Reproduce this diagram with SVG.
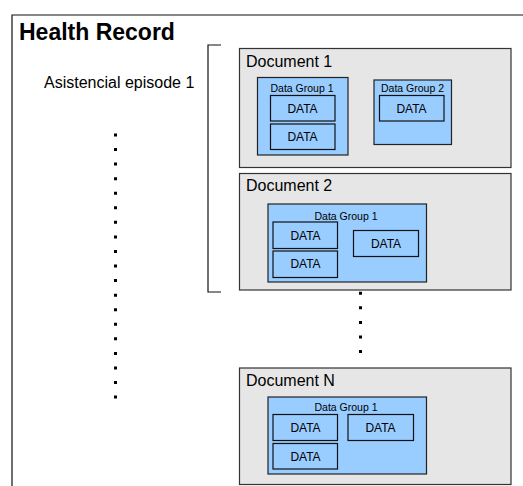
<svg xmlns="http://www.w3.org/2000/svg" width="523" height="486" viewBox="0 0 523 486">
<style>
text{font-family:"Liberation Sans",Arial,sans-serif;fill:#000}
.doc{fill:#e6e6e6;stroke:#333;stroke-width:1.2}
.grp{fill:#99ccff;stroke:#222;stroke-width:1.2}
.data{fill:none;stroke:#111;stroke-width:1.2}
.dt{font-size:12px;text-anchor:middle}
.gt{font-size:10.5px;text-anchor:middle}
.dn{font-size:16px}
.dots{stroke:#000;stroke-width:3;fill:none;stroke-dasharray:3 11.56}
.ln{stroke:#111;stroke-width:1.2;fill:none}
</style>
<rect width="523" height="486" fill="#fff"/>
<g id="health-record">
<path class="ln" d="M12,486 V15 H523"/>
<text x="19" y="40" font-size="23" font-weight="bold">Health Record</text>
</g>
<g id="episode">
<text x="44" y="88" font-size="16">Asistencial episode 1</text>
<path class="ln" d="M221,45 H208 V292 H221"/>
</g>
<g id="connectors">
<line class="dots" x1="115.5" y1="133.5" x2="115.5" y2="400"/>
<line class="dots" x1="360.5" y1="291.8" x2="360.5" y2="355"/>
</g>
<g id="doc1">
<rect class="doc" x="239.5" y="48.5" width="271.5" height="119"/>
<text class="dn" x="246" y="67">Document 1</text>
<g id="doc1-group1">
<rect class="grp" x="257.5" y="77.5" width="90.5" height="77.5"/>
<text class="gt" x="302" y="91.5">Data Group 1</text>
<rect class="data" x="270.5" y="95.5" width="64.5" height="25.5"/>
<text class="dt" x="302.5" y="112.5">DATA</text>
<rect class="data" x="270.5" y="124" width="64.5" height="25.5"/>
<text class="dt" x="302.5" y="141">DATA</text>
</g>
<g id="doc1-group2">
<rect class="grp" x="374" y="80" width="77.5" height="64.5"/>
<text class="gt" x="412.5" y="91.5">Data Group 2</text>
<rect class="data" x="379.5" y="95.5" width="64.5" height="25.5"/>
<text class="dt" x="411.5" y="112.5">DATA</text>
</g>
</g>
<g id="doc2">
<rect class="doc" x="239.5" y="173.5" width="271.5" height="116.5"/>
<text class="dn" x="246" y="191">Document 2</text>
<g id="doc2-group1">
<rect class="grp" x="268" y="204" width="158.5" height="78"/>
<text class="gt" x="346" y="220">Data Group 1</text>
<rect class="data" x="273" y="222" width="64.5" height="26.5"/>
<text class="dt" x="305.5" y="239.5">DATA</text>
<rect class="data" x="273" y="251" width="64.5" height="26.5"/>
<text class="dt" x="305.5" y="268">DATA</text>
<rect class="data" x="353.5" y="230.5" width="65" height="26"/>
<text class="dt" x="386" y="248">DATA</text>
</g>
</g>
<g id="docN">
<rect class="doc" x="239.5" y="368" width="271.5" height="116.5"/>
<text class="dn" x="246" y="385.5">Document N</text>
<g id="docN-group1">
<rect class="grp" x="268" y="397" width="158.5" height="77"/>
<text class="gt" x="346" y="411">Data Group 1</text>
<rect class="data" x="273" y="414.5" width="64.5" height="26"/>
<text class="dt" x="305.5" y="432">DATA</text>
<rect class="data" x="273" y="443.5" width="64.5" height="25.5"/>
<text class="dt" x="305.5" y="461">DATA</text>
<rect class="data" x="348" y="414.5" width="65.5" height="26"/>
<text class="dt" x="380.5" y="432">DATA</text>
</g>
</g>
</svg>
